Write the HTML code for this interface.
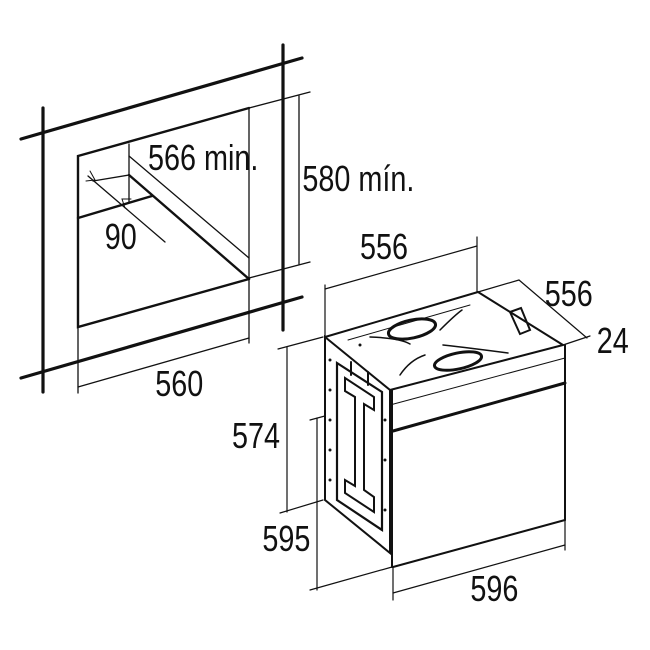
<!DOCTYPE html>
<html><head><style>
html,body{margin:0;padding:0;background:#fff;}
svg{display:block;}
text{font-family:"Liberation Sans",sans-serif;font-size:36px;fill:#111;}
</style></head><body>
<svg width="650" height="650" viewBox="0 0 650 650" xmlns="http://www.w3.org/2000/svg">
<g stroke="#111" fill="none" stroke-linecap="round">
 <g stroke-width="3.2">
  <line x1="43" y1="108" x2="43" y2="392"/>
  <line x1="21" y1="139" x2="302" y2="58"/>
  <line x1="283" y1="45" x2="283" y2="330"/>
  <line x1="21" y1="378" x2="302" y2="297"/>
 </g>
 <g stroke-width="2.4">
  <polyline points="249,108 78,156 78,327 249,279"/>
  <line x1="78" y1="218" x2="152" y2="196"/>
  <line x1="129" y1="175" x2="249" y2="279"/>
 </g>
 <g stroke-width="1.3">
  <line x1="249" y1="108" x2="249" y2="343"/>
  <line x1="129" y1="144" x2="129" y2="202"/>
  <line x1="129" y1="156" x2="249" y2="258"/>
  <line x1="93" y1="181" x2="129" y2="175"/>
  <line x1="88" y1="176" x2="165" y2="242"/>
  <line x1="78" y1="327" x2="78" y2="393"/>
  <line x1="78" y1="387" x2="249" y2="338"/>
  <line x1="299" y1="96" x2="299" y2="264"/>
  <line x1="249" y1="108" x2="310" y2="92"/>
  <line x1="249" y1="278" x2="310" y2="262"/>
 </g>
 <g stroke-width="1">
  <polyline points="90,171 95,180 86,181"/>
  <polyline points="125,208 122,199 131,199"/>
 </g>
 <g stroke-width="1.2">
  <line x1="325" y1="289" x2="477" y2="246"/>
  <line x1="325" y1="285" x2="325" y2="336"/>
  <line x1="477" y1="237" x2="477" y2="292"/>
  <line x1="519" y1="280" x2="587" y2="338"/>
  <line x1="563" y1="345" x2="590" y2="336"/>
  <line x1="287" y1="347" x2="287" y2="512"/>
  <line x1="278" y1="349" x2="323" y2="337"/>
  <line x1="280" y1="513" x2="323" y2="500"/>
  <line x1="317" y1="418" x2="317" y2="590"/>
  <line x1="310" y1="420" x2="392" y2="398"/>
  <line x1="310" y1="590" x2="392" y2="567"/>
  <line x1="393" y1="567" x2="393" y2="600"/>
  <line x1="565" y1="520" x2="565" y2="550"/>
  <line x1="393" y1="593" x2="565" y2="545"/>
 </g>
 <g stroke-width="2">
  <polygon points="325,337 390,390 390,553 325,500" fill="#fff"/>
  <polyline points="325,337 478,292 563,345"/>
  <line x1="390" y1="390" x2="563" y2="345"/>
  <line x1="392" y1="390" x2="392" y2="567"/>
  <line x1="393" y1="567" x2="565" y2="520"/>
  <line x1="565" y1="345" x2="565" y2="520"/>
  <line x1="393" y1="431" x2="565" y2="383" stroke-width="3"/>
  <line x1="390" y1="405" x2="565" y2="358" stroke-width="1"/>
  <line x1="478" y1="292" x2="519" y2="280" stroke-width="1.2"/>
  <ellipse cx="412" cy="329" rx="24" ry="9" transform="rotate(-12 412 329)" stroke-width="3"/>
  <ellipse cx="458" cy="361" rx="24" ry="8" transform="rotate(-12 458 361)" stroke-width="3"/>
  <path d="M370,337 Q400,338 410,344" stroke-width="1.5"/>
  <path d="M440,330 Q455,315 462,310" stroke-width="1.5"/>
  <path d="M443,345 Q470,348 508,353" stroke-width="1.5"/>
  <path d="M400,375 Q410,360 425,355" stroke-width="1.5"/>
  <line x1="348" y1="340" x2="470" y2="305" stroke-width="1"/>
  <polygon points="510,312 521,308 530,330 520,334" stroke-width="2"/>
  <polygon points="337,363 382,392 382,530 337,500" stroke-width="2.2"/>
  <polygon points="345,378 374,397 374,410 364,404 364,490 374,497 374,512 345,493 345,480 355,486 355,397 345,391" stroke-width="2"/>
  <line x1="351" y1="362" x2="351" y2="375" stroke-width="2"/>
  <line x1="368" y1="372" x2="368" y2="385" stroke-width="2"/>
 </g>
 <g fill="#111" stroke="none">
  <circle cx="330" cy="360" r="1.5"/><circle cx="330" cy="390" r="1.5"/><circle cx="330" cy="420" r="1.5"/>
  <circle cx="330" cy="450" r="1.5"/><circle cx="330" cy="480" r="1.5"/><circle cx="385" cy="420" r="1.5"/>
  <circle cx="385" cy="460" r="1.5"/><circle cx="385" cy="510" r="1.5"/><circle cx="360" cy="345" r="1.5"/>
 </g>
</g>
<g transform="scale(0.8 1)">
 <text x="185" y="170">566 min.</text>
 <text x="378" y="191">580 mín.</text>
 <text x="131" y="249">90</text>
 <text x="194" y="396">560</text>
 <text x="450" y="259">556</text>
 <text x="681" y="306">556</text>
 <text x="746" y="353">24</text>
 <text x="290" y="448">574</text>
 <text x="328" y="551">595</text>
 <text x="588" y="601">596</text>
</g>
</svg>
</body></html>
